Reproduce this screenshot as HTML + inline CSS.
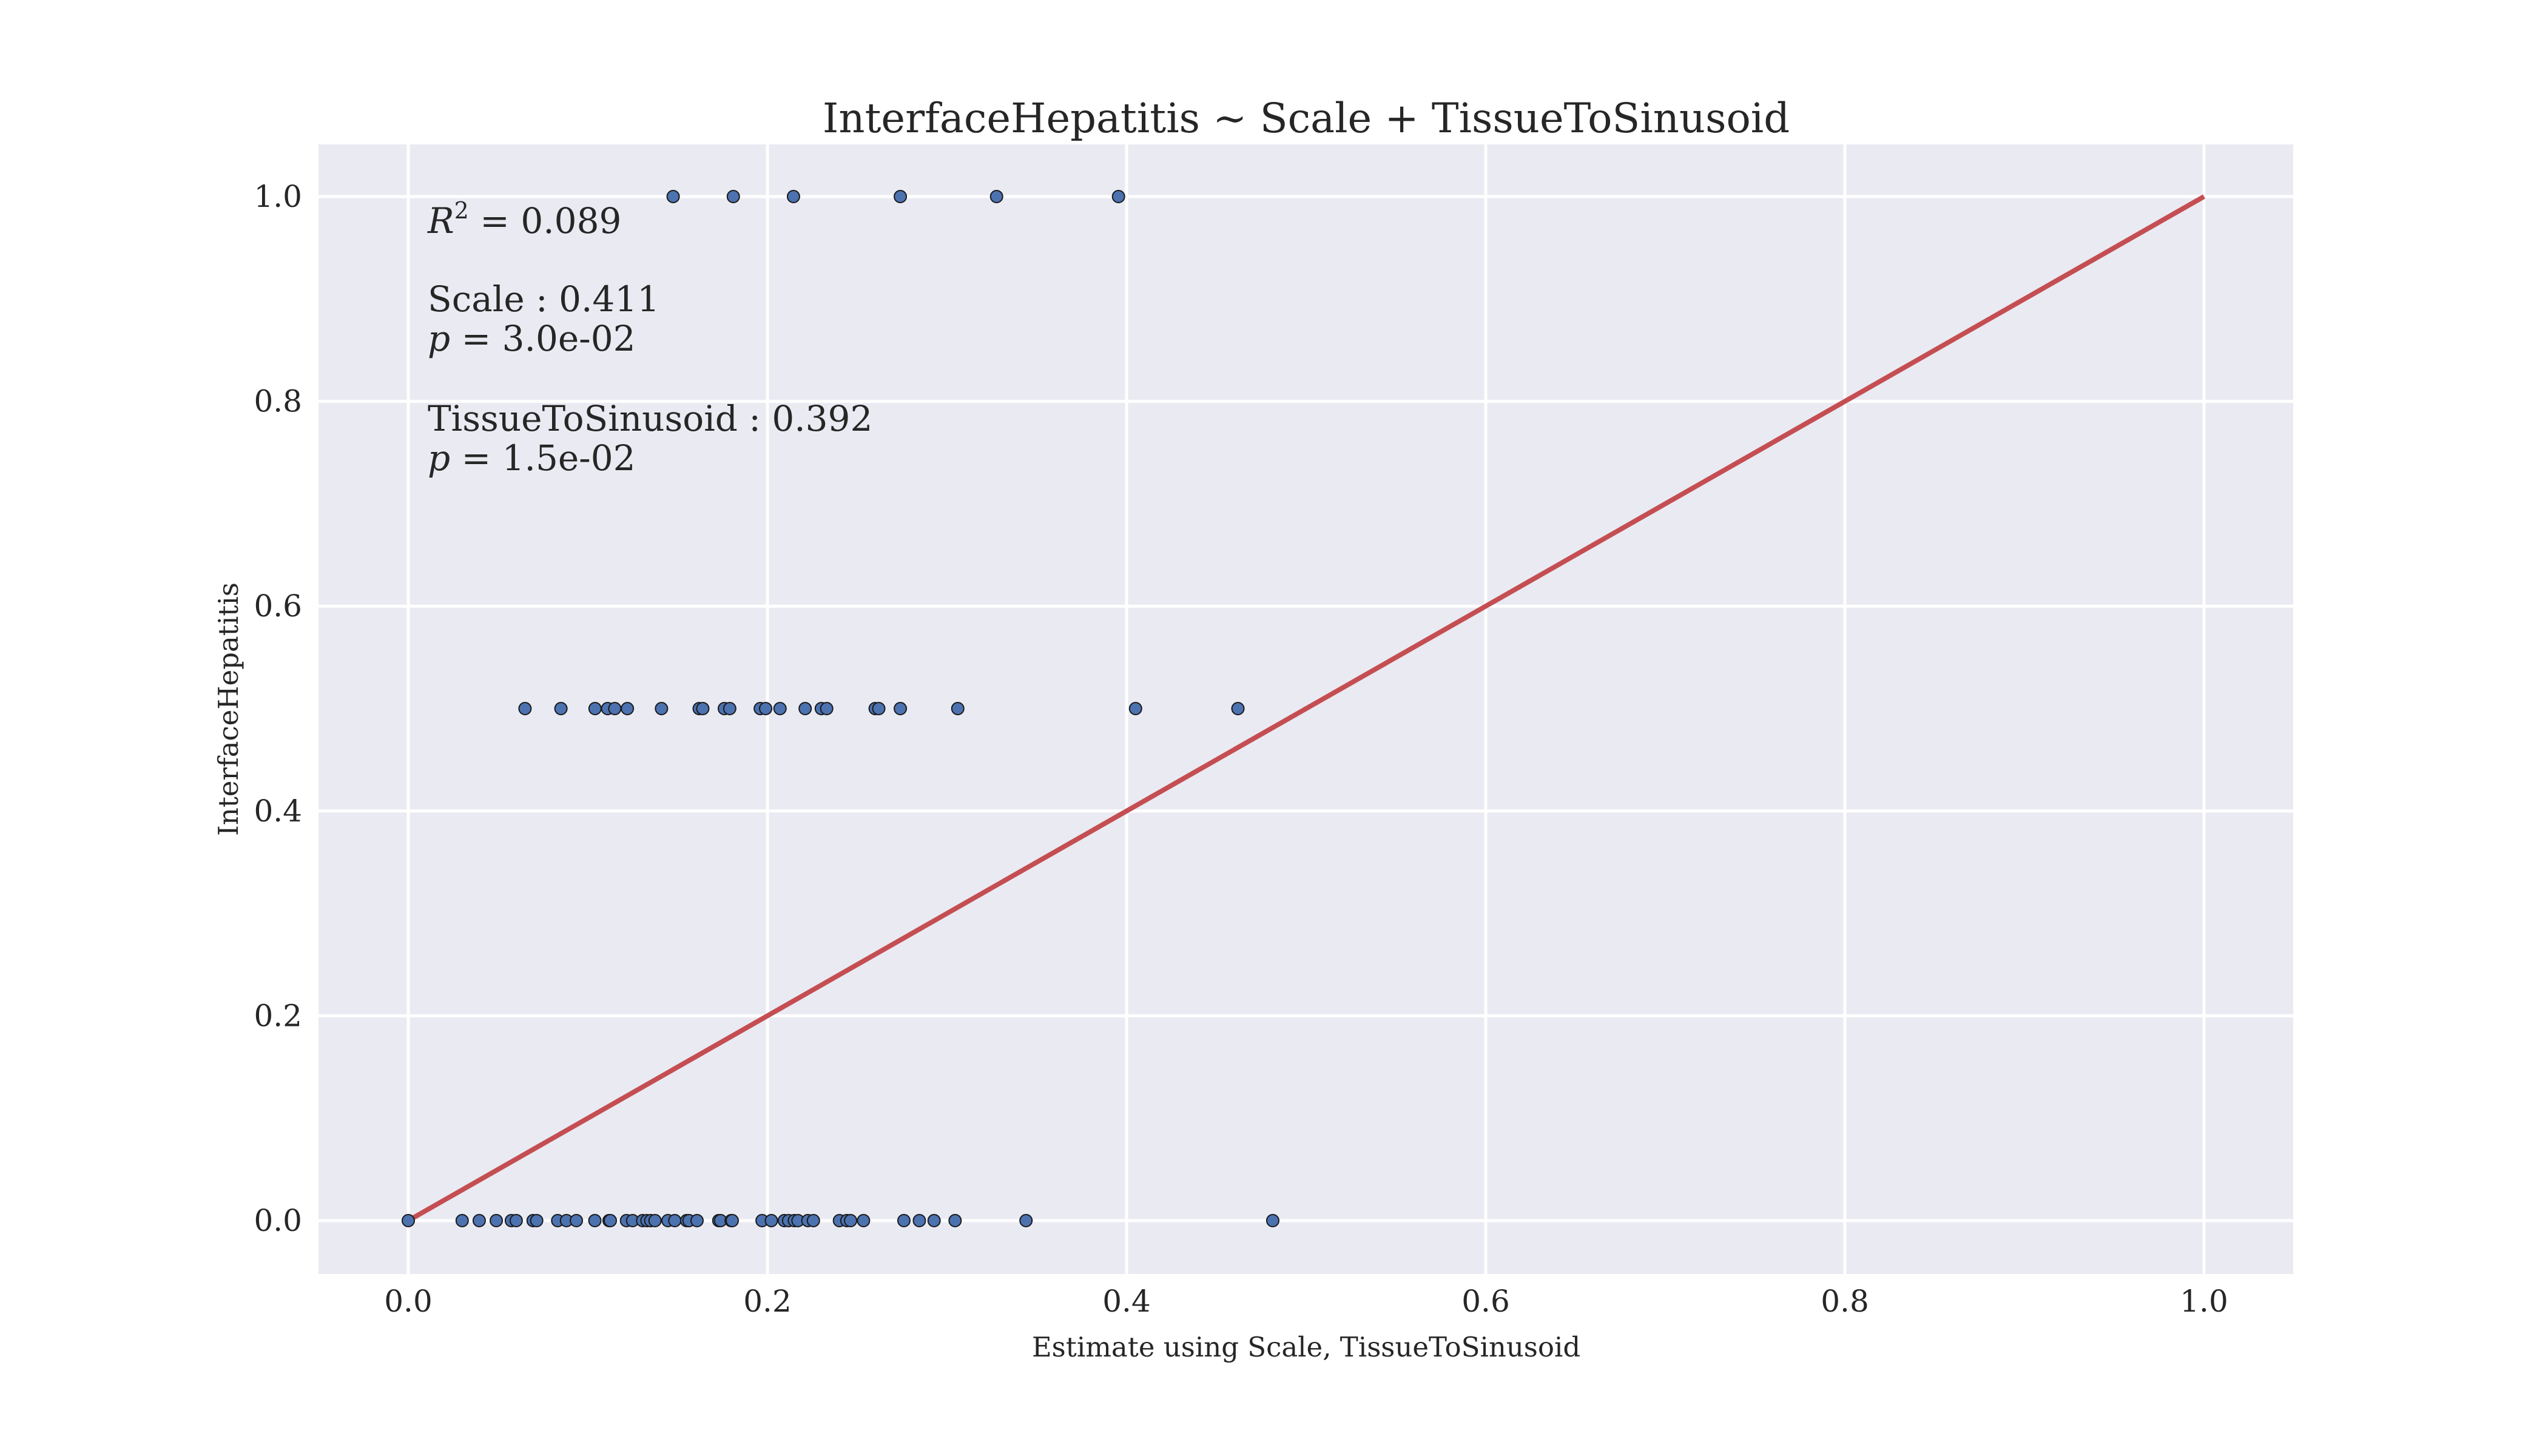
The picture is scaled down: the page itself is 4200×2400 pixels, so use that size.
<!DOCTYPE html>
<html><head><meta charset="utf-8">
<style>
html,body{margin:0;padding:0;background:#fff;}
svg{display:block;}
text{font-family:"DejaVu Serif","Liberation Serif",serif;fill:#262626;}
</style></head>
<body>
<svg id="chart" width="4200" height="2400" viewBox="0 0 4200 2400" xmlns="http://www.w3.org/2000/svg">
<rect x="0" y="0" width="4200" height="2400" fill="#ffffff"/>
<rect x="525" y="238" width="3255" height="1862" fill="#eaeaf2"/>
<g id="grid"></g>
<g id="ticks"></g>
<g id="fitline"></g>
<g id="points"></g>
<text x="2153" y="218" font-size="67" text-anchor="middle">InterfaceHepatitis ~ Scale + TissueToSinusoid</text>
<text x="2153" y="2236" font-size="45" text-anchor="middle">Estimate using Scale, TissueToSinusoid</text>
<text x="0" y="0" font-size="45" text-anchor="middle" transform="translate(392,1169) rotate(-90)">InterfaceHepatitis</text>
<g>
<text x="705" y="384" font-size="58"><tspan font-style="italic">R</tspan><tspan font-size="38" dy="-24">2</tspan><tspan dy="24">  = 0.089</tspan></text>
<text x="705" y="513" font-size="58">Scale : 0.411</text>
<text x="705" y="578" font-size="58"><tspan font-style="italic">p</tspan> = 3.0e-02</text>
<text x="705" y="710" font-size="58">TissueToSinusoid : 0.392</text>
<text x="705" y="775" font-size="58"><tspan font-style="italic">p</tspan> = 1.5e-02</text>
</g>
</svg>
<script>
const xTicks = [0.0, 0.2, 0.4, 0.6, 0.8, 1.0];
const yTicks = [0.0, 0.2, 0.4, 0.6, 0.8, 1.0];
const xTickLabels = ["0.0","0.2","0.4","0.6","0.8","1.0"];
const yTickLabels = ["0.0","0.2","0.4","0.6","0.8","1.0"];
const estTop = [0.1475,0.181,0.2145,0.274,0.3276,0.3955];
const estMid = [0.065,0.085,0.104,0.111,0.115,0.122,0.141,0.162,0.164,0.176,0.179,0.196,0.199,0.207,0.221,0.230,0.233,0.260,0.262,0.274,0.306,0.405,0.462];
const estLow = [0.0,0.030,0.0395,0.049,0.0574,0.0601,0.0695,0.0715,0.0832,0.0881,0.0936,0.1039,0.1118,0.1125,0.1215,0.1249,0.1305,0.1329,0.135,0.1374,0.1446,0.1484,0.155,0.1563,0.1608,0.1729,0.1739,0.1798,0.1804,0.197,0.2022,0.2094,0.2118,0.215,0.217,0.2225,0.2256,0.2401,0.2442,0.2463,0.2535,0.276,0.2846,0.2928,0.3045,0.344,0.4814];
const levelTop = 1.0, levelMid = 0.5, levelLow = 0.0;
const lineX = [0, 1];
const lineY = [0, 1];

const NS = "http://www.w3.org/2000/svg";
const X0 = 673, XS = 2960, Y0 = 2012, YS = 1688;
const PL = 525, PR = 3780, PT = 238, PB = 2100;
function sx(v){ return X0 + v * XS; }
function sy(v){ return Y0 - v * YS; }
function mk(tag, attrs, parent){
  const e = document.createElementNS(NS, tag);
  for (const k in attrs) e.setAttribute(k, attrs[k]);
  parent.appendChild(e);
  return e;
}
const grid = document.getElementById('grid');
const ticks = document.getElementById('ticks');
xTicks.forEach((v, i) => {
  const l = mk('line', {x1:sx(v), x2:sx(v), y1:PT, y2:PB, stroke:'#ffffff', 'stroke-width':5}, grid);
  
  
  const t = mk('text', {x:sx(v), y:2162, 'font-size':50, 'text-anchor':'middle'}, ticks);
  t.textContent = xTickLabels[i];
  
  
});
yTicks.forEach((v, i) => {
  const l = mk('line', {x1:PL, x2:PR, y1:sy(v), y2:sy(v), stroke:'#ffffff', 'stroke-width':5}, grid);
  
  
  const t = mk('text', {x:498, y:sy(v)+17, 'font-size':50, 'text-anchor':'end'}, ticks);
  t.textContent = yTickLabels[i];
  
  
});
const fl = document.getElementById('fitline');
const ln = mk('line', {x1:sx(lineX[0]), y1:sy(lineY[0]), x2:sx(lineX[1]), y2:sy(lineY[1]), stroke:'#c44e52', 'stroke-width':8}, fl);


const pts = document.getElementById('points');
function drawRow(arr, level){
  arr.forEach(v => {
    const c = mk('circle', {cx:sx(v), cy:sy(level), r:10, fill:'#4c72b0', stroke:'#1a1a1a', 'stroke-width':2}, pts);
    
    
  });
}
drawRow(estLow, levelLow);
drawRow(estMid, levelMid);
drawRow(estTop, levelTop);
</script>
</body></html>
